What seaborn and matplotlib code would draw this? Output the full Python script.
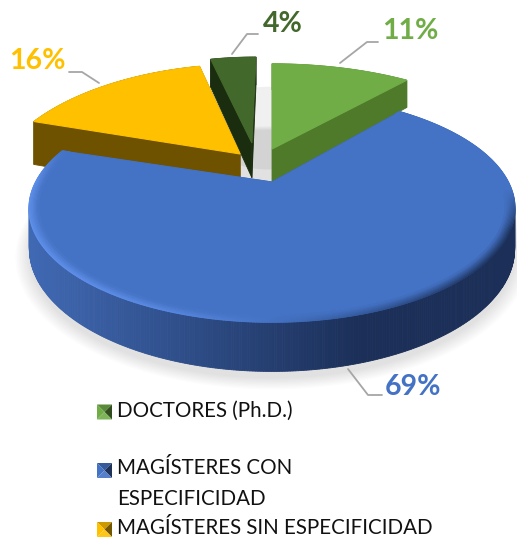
import numpy as np
import matplotlib
matplotlib.use("Agg")
import matplotlib.pyplot as plt
from matplotlib.collections import LineCollection
from matplotlib.colors import to_rgb
import seaborn as sns

# datos
categorias = ["DOCTORES (Ph.D.)", "MAGÍSTERES CON\nESPECIFICIDAD", "MAGÍSTERES SIN ESPECIFICIDAD", "OTROS"]
valores = [11, 69, 16, 4]
etiquetas = ["11%", "69%", "16%", "4%"]

colores_cara = ["#70AD47", "#4472C4", "#FFC000", "#43682B"]
colores_pared = ["#4E7A29", "#2F5597", "#6E5200", "#1A2E0F"]

# proyeccion del disco (perspectiva simple)
CX, CY = 272, 182
A, B, K = 236, 107.3, 0.233
ALTO = 38

# desplazamiento (explode), radios y grosor de cada porcion
explode = [(0.0, 0.331), (0.0, 0.0), (-0.144, 0.278), (-0.093, 0.397)]
radios = [(1.15, 1.15), (1.0, 1.0), (1.07, 1.2), (1.05, 1.2)]
grosor = [0.92, 1.0, 1.3, 1.0]
orden_dibujo = [3, 2, 0, 1]


def proyectar(x, y, z=0.0):
    s = 1 / (1 + K * y)
    return CX + A * x * s, CY - B * y * s + ALTO * z * s


def contorno(i, angulos):
    ini, fin = angulos[i], angulos[i + 1]
    t = np.radians(np.linspace(ini, fin, max(8, int(fin - ini) * 2)))
    ex, ey = explode[i]
    rx, ry = radios[i]
    x = np.r_[ex, ex + rx * np.sin(t), ex]
    y = np.r_[ey, ey + ry * np.cos(t), ey]
    return x, y


def mezcla(c1, c2, f):
    c1, c2 = np.array(to_rgb(c1)), np.array(to_rgb(c2))
    return tuple(c1 + (c2 - c1) * f)


def color_pared_azul(px):
    f = np.clip((px - 30) / 330, 0, 1)
    return mezcla("#4069B4", "#1B2F58", f)


def color_bisel(px, py, n):
    # claro a la izquierda, oscuro a la derecha, nada en la parte de atras
    f = (px - CX) / 240
    if f < 0:
        c = mezcla("#5F90EA", colores_cara[1], np.clip((f + 0.9) / 0.9, 0, 1) ** 2)
    else:
        c = mezcla(colores_cara[1], "#1E3560", np.clip(f * 1.1, 0, 1))
    fuerza = 1 - n / 9
    fuerza *= np.clip((py - 190) / 40, 0, 1) if f >= 0 else np.clip((py - 150) / 30, 0, 1)
    return mezcla(colores_cara[1], c, fuerza)


sns.set_theme(style="white")
plt.rcParams["font.family"] = ["Lato", "DejaVu Sans"]

fig, ax = plt.subplots(figsize=(5.17, 5.40), dpi=100)
ax.set_position([0, 0, 1, 1])
ax.set_xlim(0, 517)
ax.set_ylim(540, 0)
ax.axis("off")

angulos = np.r_[0, np.cumsum(valores) / np.sum(valores) * 360]

# sombra suave bajo el grafico
t = np.radians(np.linspace(0, 360, 200))
for n in range(10):
    e = 1.0 + 0.006 * n
    px, py = proyectar(e * np.sin(t), e * np.cos(t), 1.14)
    ax.fill(px, py, color="#000000", alpha=0.012, lw=0, zorder=1)
px, py = proyectar(-0.02 + 0.3 * np.sin(t), 0.62 + 0.5 * np.cos(t), 0.0)
ax.fill(px, py, color="#000000", alpha=0.06, lw=0, zorder=1)

# porciones: paredes y cara superior
z = 2
for i in orden_dibujo:
    x, y = contorno(i, angulos)
    for j in range(len(x) - 1):
        p0 = proyectar(x[j], y[j])
        p1 = proyectar(x[j + 1], y[j + 1])
        b1 = proyectar(x[j + 1], y[j + 1], grosor[i])
        b0 = proyectar(x[j], y[j], grosor[i])
        color = colores_pared[i]
        if i == 1:
            color = color_pared_azul(p0[0])
        ax.fill([p0[0], p1[0], b1[0], b0[0]], [p0[1], p1[1], b1[1], b0[1]],
                color=color, lw=0.6, zorder=z)
    z += 1
    px, py = proyectar(x, y)
    ax.fill(px, py, color=colores_cara[i], lw=0.8, zorder=z)
    z += 1

# bisel del borde azul
x, y = contorno(1, angulos)
x, y = x[1:-1], y[1:-1]
for n in range(9):
    esc = 1 - 0.0045 * n
    segs, cols = [], []
    for j in range(len(x) - 1):
        p0 = proyectar(x[j] * esc, y[j] * esc)
        p1 = proyectar(x[j + 1] * esc, y[j + 1] * esc)
        segs.append([p0, p1])
        cols.append(color_bisel(p0[0], p0[1], n))
    ax.add_collection(LineCollection(segs, colors=cols, linewidths=1.3, capstyle="round", zorder=z + n))

# lineas guia y etiquetas
guias = {
    0: ([340, 367, 378], [63, 42, 42]),
    1: ([348, 368, 382], [369, 395, 395]),
    2: ([99, 82, 69], [83, 72, 72]),
    3: ([232, 247, 258], [54, 34, 34]),
}
pos_etiquetas = [(410, 31), (413, 387), (37, 61), (283, 24)]
color_etiquetas = ["#70AD47", "#4472C4", "#FFC000", "#43682B"]
for i, (gx, gy) in guias.items():
    ax.plot(gx, gy, color="#A6A6A6", lw=1.3, zorder=30)
    ax.text(pos_etiquetas[i][0], pos_etiquetas[i][1], etiquetas[i], color=color_etiquetas[i],
            fontsize=20.5, fontweight="bold", ha="center", va="center", zorder=31)

# leyenda (la ultima categoria queda fuera de la imagen)
filas_clave = [412, 470.5, 529.5]
filas_texto = [411, 483.5, 528]
for i, (yk, yt) in enumerate(zip(filas_clave, filas_texto)):
    x0, x1 = 97, 112
    y0, y1 = yk - 7.5, yk + 7.5
    xm, ym = (x0 + x1) / 2, (y0 + y1) / 2
    c = colores_cara[i]
    ax.fill([x0, x1, xm], [y0, y0, ym], color=mezcla(c, "#000000", 0.2), lw=0, zorder=30)
    ax.fill([x0, xm, x0], [y0, ym, y1], color=c, lw=0, zorder=30)
    ax.fill([x1, xm, x1], [y0, ym, y1], color=mezcla(c, "#000000", 0.55), lw=0, zorder=30)
    ax.fill([x0, x1, xm], [y1, y1, ym], color=mezcla(c, "#FFFFFF", 0.1), lw=0, zorder=30)
    ax.text(117, yt, categorias[i], color="#111111", fontsize=14.8, ha="left", va="center",
            linespacing=1.72, zorder=31)

fig.savefig("out.png", dpi=100)
